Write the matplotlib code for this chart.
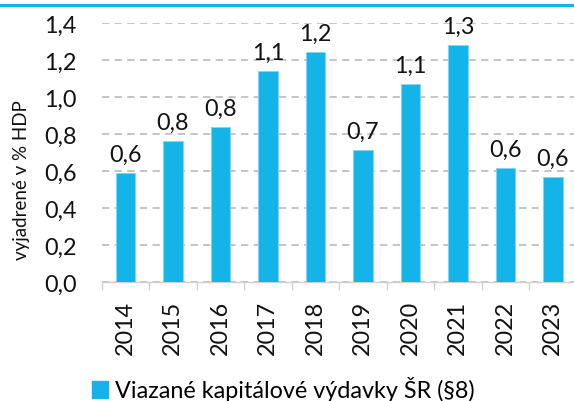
import matplotlib
matplotlib.use("Agg")
import matplotlib.pyplot as plt
from matplotlib.lines import Line2D
from matplotlib.patches import Patch
from matplotlib.ticker import FuncFormatter

years = ["2014", "2015", "2016", "2017", "2018", "2019", "2020", "2021", "2022", "2023"]
values = [0.588, 0.762, 0.838, 1.14, 1.243, 0.714, 1.07, 1.28, 0.616, 0.567]
y_label = "vyjadrené v % HDP"
legend_label = "Viazané kapitálové výdavky ŠR (§8)"

BLUE = "#14B4E9"
FS = 16.8
plt.rcParams["font.family"] = ["Lato", "DejaVu Sans"]


def comma(v, _pos=None):
    return f"{v:.1f}".replace(".", ",")


fig = plt.figure(figsize=(5.74, 4.02), dpi=100)
ax = fig.add_axes([101.6 / 574, 119 / 402, 475 / 574, 259 / 402])

x = list(range(len(years)))
ax.bar(x, values, width=0.41, color=BLUE, edgecolor="#7fd6f3", linewidth=0.6, zorder=3)

for xi, v in zip(x, values):
    ax.annotate(comma(v), (xi, v), xytext=(0, 6), textcoords="offset points",
                ha="center", va="bottom", fontsize=FS, color="#111111")

ax.set_xlim(-0.5, len(years) - 0.5)
ax.set_ylim(0, 1.4)
ax.set_yticks([0, 0.2, 0.4, 0.6, 0.8, 1.0, 1.2, 1.4])
ax.yaxis.set_major_formatter(FuncFormatter(comma))
ax.tick_params(axis="y", length=0, pad=18, labelsize=FS, labelcolor="#111111")

ax.set_xticks(x)
ax.set_xticklabels(years, rotation=90, fontsize=FS, color="#111111")
ax.set_xticks([i + 0.5 for i in range(-1, len(years))], minor=True)
ax.tick_params(axis="x", which="major", length=0, pad=13)
ax.tick_params(axis="x", which="minor", length=6, width=1, color="#d0d0d0")

ax.grid(axis="y", color="#c0c0c0", linestyle=(0, (4, 3)), linewidth=1.3, zorder=0)
for s in ("top", "right", "left"):
    ax.spines[s].set_visible(False)
ax.spines["bottom"].set_color("#d0d0d0")
ax.spines["bottom"].set_linewidth(1)

ax.set_ylabel(y_label, fontsize=13.5, color="#111111", va="center")
ax.yaxis.set_label_coords((21 - 101.6) / 475, (283 - 180) / 259)

fig.add_artist(Line2D([0, 1], [1 - 6 / 402] * 2, color=BLUE, lw=2.2))

fig.legend(handles=[Patch(color=BLUE)], labels=[legend_label], loc="center left",
           bbox_to_anchor=(80 / 574, 1 - 390 / 402), frameon=False, fontsize=FS,
           handlelength=0.7, handleheight=0.7, handletextpad=0.3, borderpad=0)

fig.savefig("out.png", dpi=100)
